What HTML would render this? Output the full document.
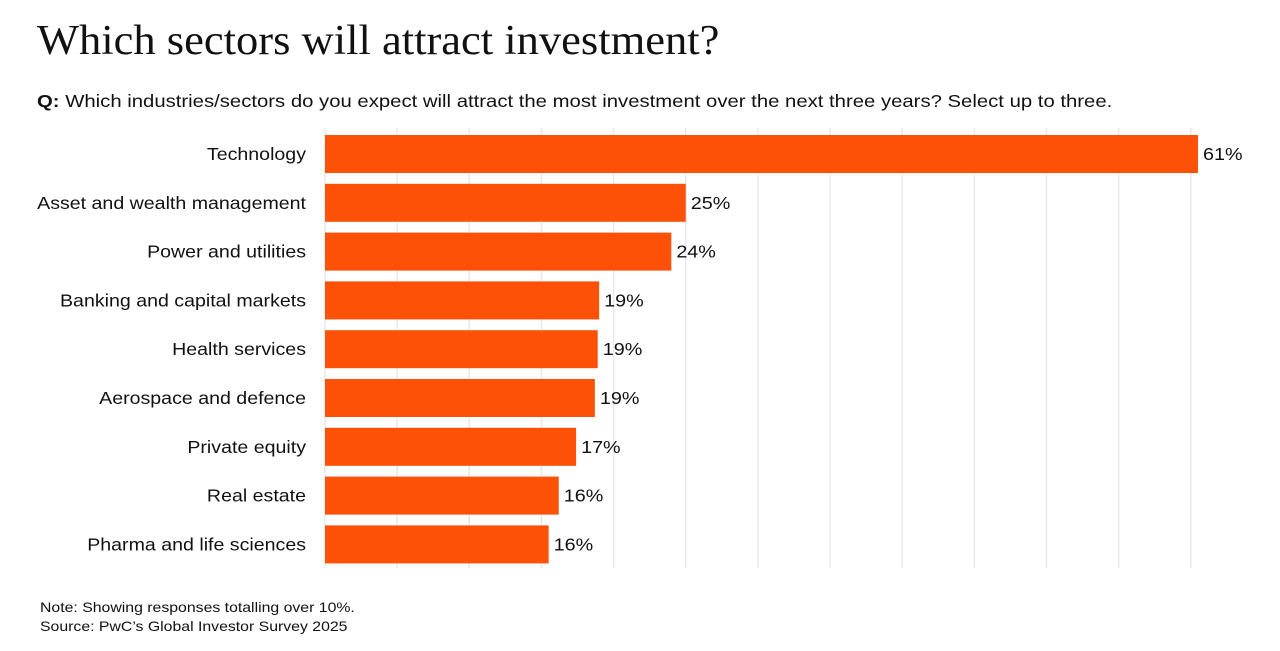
<!DOCTYPE html>
<html><head><meta charset="utf-8"><style>
body{margin:0;background:#fff;width:1280px;height:651px;overflow:hidden;font-family:"Liberation Sans",sans-serif;}
h1{position:absolute;left:37px;top:17px;margin:0;font-family:"Liberation Serif",serif;font-weight:normal;font-size:42px;color:#111;transform:scaleX(1.06);transform-origin:left top;white-space:nowrap;}
.q{position:absolute;left:37px;top:91px;font-size:17.5px;color:#111;transform:scaleX(1.16);transform-origin:left top;white-space:nowrap;}
.note{position:absolute;left:40px;top:598px;font-size:14px;color:#111;line-height:19px;transform:scaleX(1.13);transform-origin:left top;white-space:nowrap;}
</style></head><body>
<h1>Which sectors will attract investment?</h1>
<div class="q"><b>Q:</b> Which industries/sectors do you expect will attract the most investment over the next three years? Select up to three.</div>
<svg id="chart" width="1280" height="651" style="position:absolute;left:0;top:0"></svg>
<div class="note">Note: Showing responses totalling over 10%.<br>Source: PwC’s Global Investor Survey 2025</div>
<script>
const categories=["Technology","Asset and wealth management","Power and utilities","Banking and capital markets","Health services","Aerospace and defence","Private equity","Real estate","Pharma and life sciences"];
const values=[60.5,25,24,19,18.9,18.7,17.4,16.2,15.5];
const labels=["61%","25%","24%","19%","19%","19%","17%","16%","16%"];
const gridTicks=[0,5,10,15,20,25,30,35,40,45,50,55,60];
const svg=document.getElementById('chart');const NS='http://www.w3.org/2000/svg';
const x0=325,pxPer=14.43,y0=130,pitch=48.8,bh=38;
const x=v=>x0+v*pxPer;
function mk(t,a){const e=document.createElementNS(NS,t);for(const k in a)e.setAttribute(k,a[k]);svg.appendChild(e);return e;}
gridTicks.forEach(t=>{const l=mk('line',{x1:x(t),x2:x(t),y1:128,y2:568,stroke:'#e8e8e8','stroke-width':1.5});

});
categories.forEach((c,i)=>{const cy=y0+i*pitch+24;
const r=mk('rect',{x:x0,y:cy-bh/2,width:x(values[i])-x0,height:bh,fill:'#fd5108'});


const t=mk('text',{x:0,y:0,transform:`translate(306,${cy+6}) scale(1.12,1)`,'text-anchor':'end','font-size':17.5,fill:'#111'});t.textContent=c;


const v=mk('text',{x:0,y:0,transform:`translate(${x(values[i])+5},${cy+6}) scale(1.13,1)`,'font-size':17.5,fill:'#111'});v.textContent=labels[i];

});
</script>
</body></html>
